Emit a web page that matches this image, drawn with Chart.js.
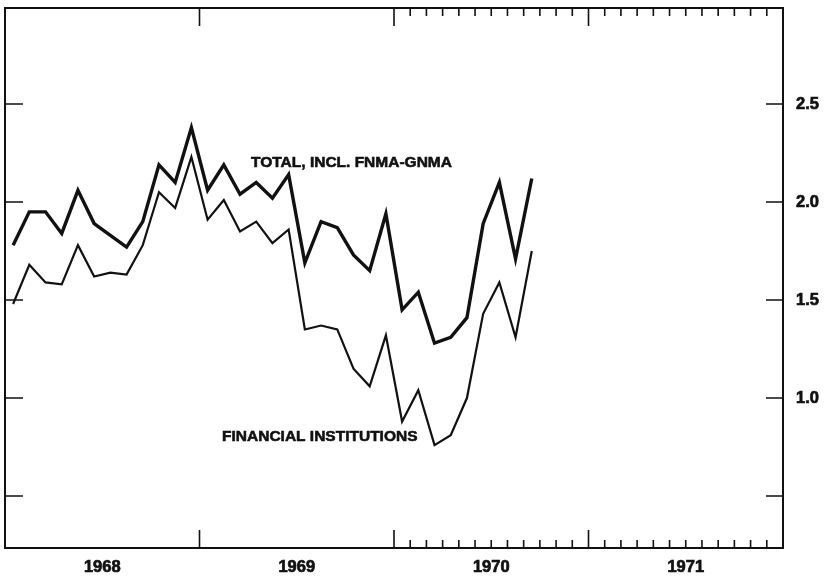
<!DOCTYPE html>
<html>
<head>
<meta charset="utf-8">
<script src="https://cdn.jsdelivr.net/npm/chart.js@4"></script>
<style>
  html, body { margin: 0; padding: 0; background: #fff; }
  canvas { display: block; }
</style>
</head>
<body>
<canvas id="chart" width="829" height="577"></canvas>
<script>
// monthly data, Jan 1968 .. Sep 1970
const years = ['1968', '1969', '1970', '1971'];
const total = [1.78, 1.95, 1.95, 1.84, 2.06, 1.89, 1.83, 1.77, 1.90, 2.19, 2.10, 2.38,
               2.06, 2.19, 2.04, 2.10, 2.02, 2.14, 1.69, 1.90, 1.87, 1.73, 1.65, 1.94,
               1.45, 1.54, 1.28, 1.31, 1.41, 1.89, 2.10, 1.71, 2.12];
const financial = [1.48, 1.68, 1.59, 1.58, 1.78, 1.62, 1.64, 1.63, 1.78, 2.05, 1.97, 2.23,
                   1.91, 2.01, 1.85, 1.90, 1.79, 1.86, 1.35, 1.37, 1.35, 1.15, 1.06, 1.32,
                   0.88, 1.04, 0.76, 0.81, 1.00, 1.43, 1.59, 1.31, 1.75];
const yTicks = [0.5, 1.0, 1.5, 2.0, 2.5];
const yTickLabels = ['', '1.0', '1.5', '2.0', '2.5'];

const INK = '#111';
const FONT = '"Liberation Sans", Arial, sans-serif';
const toPoints = (arr) => arr.map((v, i) => ({x: i + 0.5, y: v}));

// frame, tick marks and line labels
const framePlugin = {
    id: 'frame',
    afterDatasetsDraw(chart) {
        const {ctx, chartArea: a, scales: {x, y}} = chart;
        ctx.save();
        ctx.strokeStyle = INK;
        ctx.lineWidth = 2;
        ctx.strokeRect(a.left, a.top, a.right - a.left, a.bottom - a.top);

        ctx.lineWidth = 1.6;
        ctx.beginPath();
        // year boundaries
        for (let m = 12; m < 48; m += 12) {
            const px = x.getPixelForValue(m);
            ctx.moveTo(px, a.top); ctx.lineTo(px, a.top + 18);
            ctx.moveTo(px, a.bottom); ctx.lineTo(px, a.bottom - 18);
        }
        // monthly ticks for 1970-71
        for (let m = 25; m < 48; m++) {
            if (m === 36) continue;
            const px = x.getPixelForValue(m);
            ctx.moveTo(px, a.top); ctx.lineTo(px, a.top + 8);
            ctx.moveTo(px, a.bottom); ctx.lineTo(px, a.bottom - 8);
        }
        // value ticks, both sides, pointing inward
        yTicks.forEach(v => {
            const py = y.getPixelForValue(v);
            ctx.moveTo(a.left, py); ctx.lineTo(a.left + 18, py);
            ctx.moveTo(a.right, py); ctx.lineTo(a.right - 17, py);
        });
        ctx.stroke();

        ctx.fillStyle = INK;
        ctx.strokeStyle = INK;
        ctx.lineWidth = 0.6;
        ctx.font = 'bold 15.5px ' + FONT;
        ctx.textBaseline = 'middle';
        ctx.textAlign = 'left';
        const labels = [
            ['TOTAL, INCL. FNMA-GNMA', 15.18, 2.203],
            ['FINANCIAL INSTITUTIONS', 13.39, 0.805]
        ];
        labels.forEach(([t, mx, vy]) => {
            const px = x.getPixelForValue(mx), py = y.getPixelForValue(vy);
            ctx.fillText(t, px, py);
            ctx.strokeText(t, px, py);
        });
        ctx.restore();
    }
};

new Chart(document.getElementById('chart'), {
    type: 'line',
    data: {
        datasets: [
            {
                label: 'Total, incl. FNMA-GNMA',
                data: toPoints(total),
                borderColor: INK,
                borderWidth: 3.4,
                pointRadius: 0,
                tension: 0
            },
            {
                label: 'Financial institutions',
                data: toPoints(financial),
                borderColor: INK,
                borderWidth: 2.2,
                pointRadius: 0,
                tension: 0
            }
        ]
    },
    options: {
        responsive: false,
        animation: false,
        devicePixelRatio: 1,
        layout: {padding: {left: 5, top: 8, right: 0, bottom: 0}},
        plugins: {
            legend: {display: false},
            tooltip: {enabled: false}
        },
        scales: {
            x: {
                type: 'linear',
                min: 0,
                max: 48,
                border: {display: false},
                grid: {display: false, drawTicks: false},
                afterBuildTicks: (scale) => {
                    scale.ticks = years.map((_, i) => ({value: i * 12 + 6}));
                },
                ticks: {
                    padding: 10,
                    color: INK,
                    textStrokeColor: INK,
                    textStrokeWidth: 0.7,
                    font: {family: FONT, size: 16.5, weight: 'bold'},
                    callback: (value, index) => years[index]
                },
                afterFit: (scale) => {
                    scale.height = 29;
                    scale.paddingLeft = 0;
                    scale.paddingRight = 0;
                }
            },
            y: {
                position: 'right',
                min: 0.235,
                max: 2.99,
                border: {display: false},
                grid: {display: false, drawTicks: false},
                afterBuildTicks: (scale) => {
                    scale.ticks = yTicks.map(v => ({value: v}));
                },
                ticks: {
                    padding: 13,
                    color: INK,
                    textStrokeColor: INK,
                    textStrokeWidth: 0.7,
                    font: {family: FONT, size: 16.5, weight: 'bold'},
                    callback: (value, index) => yTickLabels[index]
                },
                afterFit: (scale) => {
                    scale.width = 46;
                    scale.paddingTop = 0;
                    scale.paddingBottom = 0;
                }
            }
        }
    },
    plugins: [framePlugin]
});
</script>
</body>
</html>
